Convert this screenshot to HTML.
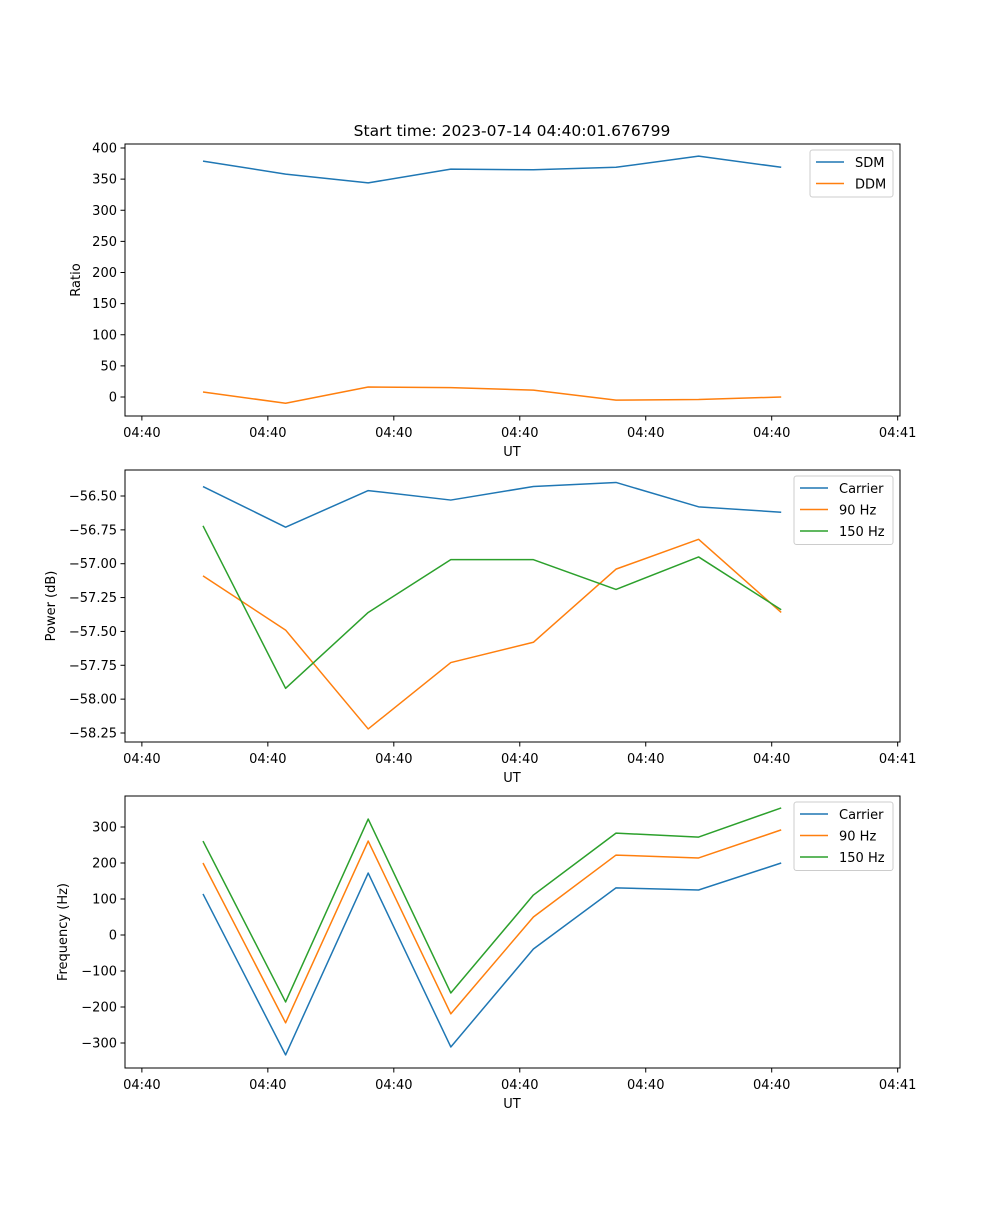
<!DOCTYPE html>
<html><head><meta charset="utf-8">
<style>
body{margin:0;background:#fff;}
svg text{font-family:"DejaVu Sans","Liberation Sans",sans-serif;fill:#000;}
</style></head>
<body>
<svg id="fig" width="1000" height="1200" xmlns="http://www.w3.org/2000/svg">
<rect width="1000" height="1200" fill="#fff"/>
<text x="512" y="136" font-size="15.5" text-anchor="middle">Start time: 2023-07-14 04:40:01.676799</text>
</svg>
<script>
// shared x data (sample index) and ticks
const xIdx = [0,1,2,3,4,5,6,7];
const xTickVals = [-0.74,0.785,2.31,3.835,5.36,6.885,8.41];
const xTickLabels = ["04:40","04:40","04:40","04:40","04:40","04:40","04:41"];
// panel 1
const sdm = [379,358,344,366,365,369,387,369];
const ddm = [8,-10,16,15,11,-5,-4,0];
const ratioTicks = [0,50,100,150,200,250,300,350,400];
// panel 2
const pCarrier = [-56.43,-56.73,-56.46,-56.53,-56.43,-56.40,-56.58,-56.62];
const p90 = [-57.09,-57.49,-58.22,-57.73,-57.58,-57.04,-56.82,-57.36];
const p150 = [-56.72,-57.92,-57.36,-56.97,-56.97,-57.19,-56.95,-57.34];
const powerTicks = [-56.50,-56.75,-57.00,-57.25,-57.50,-57.75,-58.00,-58.25];
// panel 3
const fCarrier = [114,-333,172,-311,-39,131,125,200];
const f90 = [200,-244,261,-219,50,222,214,292];
const f150 = [261,-186,322,-161,111,283,272,353];
const freqTicks = [-300,-200,-100,0,100,200,300];

const NS="http://www.w3.org/2000/svg";
const svg=document.getElementById('fig');
function mk(t,a,p){const e=document.createElementNS(NS,t);for(const k in a)e.setAttribute(k,a[k]);(p||svg).appendChild(e);return e;}
const L=125,R=900;
const xs=i=>203+82.6*i;

function panel(cfg){
  const g=mk('g',{});
  
  
  const ys=v=>cfg.y0px+(v-cfg.v0)*(cfg.y1px-cfg.y0px)/(cfg.v1-cfg.v0);
  cfg.series.forEach(s=>{
    const pl=mk('polyline',{points:s.data.map((v,i)=>xs(xIdx[i])+','+ys(v)).join(' '),fill:'none',stroke:s.color,'stroke-width':1.5,'stroke-linejoin':'round'},g);
    
    
  });
  const fr=mk('rect',{x:L,y:cfg.top,width:R-L,height:cfg.bot-cfg.top,fill:'none',stroke:'#000','stroke-width':1},g);
  
  
  xTickVals.forEach((v,i)=>{
    const x=xs(v);
    mk('line',{x1:x,x2:x,y1:cfg.bot,y2:cfg.bot+4.5,stroke:'#000'},g);
    const t=mk('text',{x:x,y:cfg.bot+21,'font-size':13,'text-anchor':'middle'},g);
    t.textContent=xTickLabels[i];
    
    
  });
  cfg.ticks.forEach(v=>{
    const y=ys(v);
    mk('line',{x1:L-4.5,x2:L,y1:y,y2:y,stroke:'#000'},g);
    const t=mk('text',{x:L-8,y:y+4.5,'font-size':13,'text-anchor':'end'},g);
    t.textContent=(cfg.fmt?cfg.fmt(v):String(v)).replace('-','\u2212');
    
    
  });
  const xl=mk('text',{x:512,y:cfg.bot+40,'font-size':13,'text-anchor':'middle'},g);
  xl.textContent='UT';
  
  
  const cy=(cfg.top+cfg.bot)/2;
  const yl=mk('text',{x:cfg.ylx,y:cy,'font-size':13,'text-anchor':'middle',transform:'rotate(-90 '+cfg.ylx+' '+cy+')'},g);
  yl.textContent=cfg.ylabel;
  
  
  // legend
  const lg=mk('g',{},g);
  
  
  const lx=cfg.legX, ly=cfg.top+6, lw=893-cfg.legX, lh=cfg.series.length*21.5+4;
  mk('rect',{x:lx,y:ly,width:lw,height:lh,rx:2.5,fill:'#fff',stroke:'#ccc','fill-opacity':0.8},lg);
  cfg.series.forEach((s,i)=>{
    const yy=ly+12+i*21.5;
    const e=mk('g',{},lg);
    
    
    mk('line',{x1:lx+6,x2:lx+34,y1:yy,y2:yy,stroke:s.color,'stroke-width':1.5},e);
    const t=mk('text',{x:lx+45,y:yy+5,'font-size':13},e);
    t.textContent=s.label;
  });
}
const C1='#1f77b4',C2='#ff7f0e',C3='#2ca02c';
panel({name:'ratio-panel',top:144,bot:416,v0:0,y0px:397,v1:400,y1px:148,ticks:ratioTicks,ylabel:'Ratio',ylx:80,legX:810,
  series:[{id:'sdm',label:'SDM',color:C1,data:sdm},{id:'ddm',label:'DDM',color:C2,data:ddm}]});
panel({name:'power-panel',top:470,bot:742,v0:-56.5,y0px:496,v1:-58.25,y1px:733,ticks:powerTicks,ylabel:'Power (dB)',ylx:55,legX:794,fmt:v=>v.toFixed(2),
  series:[{id:'carrier',label:'Carrier',color:C1,data:pCarrier},{id:'90hz',label:'90 Hz',color:C2,data:p90},{id:'150hz',label:'150 Hz',color:C3,data:p150}]});
panel({name:'frequency-panel',top:796,bot:1068,v0:300,y0px:827,v1:-300,y1px:1043,ticks:freqTicks,ylabel:'Frequency (Hz)',ylx:67,legX:794,
  series:[{id:'carrier',label:'Carrier',color:C1,data:fCarrier},{id:'90hz',label:'90 Hz',color:C2,data:f90},{id:'150hz',label:'150 Hz',color:C3,data:f150}]});
</script>
</body></html>
